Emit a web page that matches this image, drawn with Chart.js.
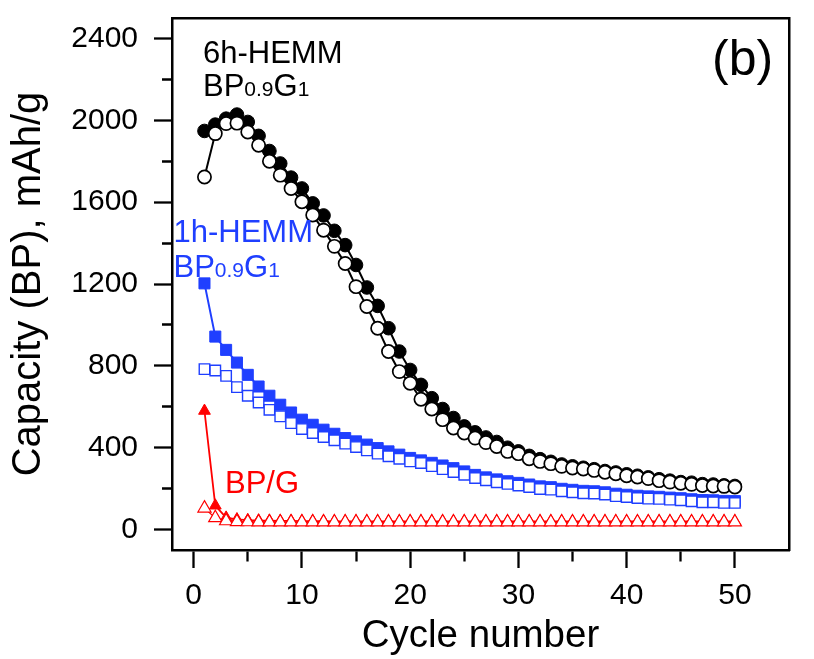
<!DOCTYPE html>
<html>
<head>
<meta charset="utf-8">
<title>Capacity vs cycle number</title>
<script src="https://cdn.jsdelivr.net/npm/chart.js@4.4.1/dist/chart.umd.min.js"></script>
<style>
  html, body { margin: 0; padding: 0; background: #fff; }
  #wrap { width: 814px; height: 659px; }
</style>
</head>
<body>
<div id="wrap"><canvas id="chart" width="814" height="659"></canvas></div>
<script>
// Cycle index (x) shared by every series
const cycleNumbers = [1,2,3,4,5,6,7,8,9,10,11,12,13,14,15,16,17,18,19,20,21,22,23,24,25,
                      26,27,28,29,30,31,32,33,34,35,36,37,38,39,40,41,42,43,44,45,46,47,48,49,50];

// 6h-HEMM BP0.9G1, solid circles
const hemm6hFilled = [1948,1979,2008,2028,1992,1924,1850,1789,1720,1667,1594,1535,1460,1390,1293,1183,1093,984,870,780,
                      707,642,589,545,504,475,450,428,400,382,360,344,331,318,309,302,295,286,279,270,
                      263,255,246,239,232,229,222,220,216,213];
// 6h-HEMM BP0.9G1, open circles
const hemm6hOpen   = [1723,1935,1984,1986,1943,1878,1800,1732,1667,1602,1537,1463,1384,1300,1187,1090,984,870,772,715,
                      637,589,537,496,472,447,425,406,382,371,346,333,322,309,301,296,289,280,273,263,
                      257,249,239,232,226,221,215,213,211,208];

// 1h-HEMM BP0.9G1, solid squares
const hemm1hFilled = [1203,943,878,816,756,699,654,610,572,537,512,488,468,447,431,415,398,382,366,350,
                      338,326,313,300,284,267,255,245,236,228,220,211,207,199,194,189,187,182,175,170,
                      165,162,160,156,153,148,144,143,140,139];
// 1h-HEMM BP0.9G1, open squares
const hemm1hOpen   = [784,777,751,696,654,621,585,553,520,491,472,452,436,420,403,387,371,358,346,333,
                      325,310,295,281,268,252,241,231,223,215,208,198,195,187,182,177,176,171,163,159,
                      154,151,150,146,143,138,133,133,130,130];

// BP/G, solid triangles
const bpgFilled    = [580,117,58,50,46,44,43,42,42,41,41,41,40,40,40,40,40,40,40,40,
                      40,40,40,40,40,40,40,40,40,40,40,40,40,40,40,40,40,40,40,40,
                      40,40,40,40,40,40,40,40,40,40];
// BP/G, open triangles
const bpgOpen      = [104,57,42,38,37,36,36,36,36,36,36,36,36,36,36,36,36,36,36,36,
                      36,36,36,36,36,36,36,36,36,36,36,36,36,36,36,36,36,36,36,36,
                      36,36,36,36,36,36,36,36,36,36];

// Axis ticks: labelled majors and unlabelled minors
const xMajorTicks = [0,10,20,30,40,50];
const xMinorTicks = [5,15,25,35,45];
const yMajorTicks = [0,400,800,1200,1600,2000,2400];
const yMinorTicks = [200,600,1000,1400,1800,2200];

const FONT = '"Liberation Sans", Arial, Helvetica, sans-serif';
const BLACK = '#000000';
const BLUE = '#1f3fff';
const RED = '#ff0000';

const toPoints = (ys) => cycleNumbers.map((c, i) => ({ x: c, y: ys[i] }));
const tickList = (major, minor) => major.concat(minor).sort((a, b) => a - b).map(v => ({ value: v }));

// Minor ticks are drawn shorter by dashing the tick stroke
const yMinorDash = (ctx) => (ctx.tick && yMinorTicks.includes(ctx.tick.value)) ? [0, 8, 30] : [];
const xMinorDash = (ctx) => (ctx.tick && xMinorTicks.includes(ctx.tick.value)) ? [10, 40] : [];

const noPadding = (s) => { s.paddingTop = 0; s.paddingBottom = 0; s.paddingLeft = 0; s.paddingRight = 0; };

// Text runs with smaller subscript digits, e.g. BP0.9G1
function drawRuns(ctx, runs, x, y, color) {
  ctx.fillStyle = color;
  ctx.textAlign = 'left';
  ctx.textBaseline = 'alphabetic';
  for (const [text, size] of runs) {
    ctx.font = size + 'px ' + FONT;
    ctx.fillText(text, x, y);
    x += ctx.measureText(text).width;
  }
}

const seriesLabels = {
  id: 'seriesLabels',
  afterDatasetsDraw(chart) {
    const { ctx, chartArea: a } = chart;
    ctx.save();
    drawRuns(ctx, [['6h-HEMM', 31]], a.left + 31, a.top + 45, BLACK);
    drawRuns(ctx, [['BP', 31], ['0.9', 21], ['G', 31], ['1', 21]], a.left + 31, a.top + 78, BLACK);
    drawRuns(ctx, [['1h-HEMM', 31]], a.left + 1.5, a.top + 224, BLUE);
    drawRuns(ctx, [['BP', 31], ['0.9', 21], ['G', 31], ['1', 21]], a.left + 1.5, a.top + 258.5, BLUE);
    drawRuns(ctx, [['BP/G', 31]], a.left + 53, a.top + 475, RED);
    drawRuns(ctx, [['(b)', 50]], a.left + 540, a.top + 57, BLACK);
    ctx.restore();
  }
};

const frameAxis = (position, min, max) => ({
  type: 'linear',
  position: position,
  min: min,
  max: max,
  ticks: { display: false },
  grid: { drawOnChartArea: false, drawTicks: false },
  border: { display: true, color: BLACK, width: 2.5 },
  afterFit: (s) => { if (position === 'top') { s.height = 0; } else { s.width = 0; } noPadding(s); }
});

Chart.defaults.font.family = FONT;
Chart.defaults.color = BLACK;

new Chart(document.getElementById('chart'), {
  type: 'line',
  data: {
    datasets: [
      { label: '6h-HEMM BP0.9G1 (solid)', data: toPoints(hemm6hFilled), order: 2,
        borderColor: BLACK, borderWidth: 2, pointStyle: 'circle', pointRadius: 6.8,
        pointBackgroundColor: BLACK, pointBorderColor: BLACK, pointBorderWidth: 1 },
      { label: '6h-HEMM BP0.9G1 (open)', data: toPoints(hemm6hOpen), order: 1,
        borderColor: BLACK, borderWidth: 2, pointStyle: 'circle', pointRadius: 6.6,
        pointBackgroundColor: '#ffffff', pointBorderColor: BLACK, pointBorderWidth: 1.7 },
      { label: '1h-HEMM BP0.9G1 (solid)', data: toPoints(hemm1hFilled), order: 4,
        borderColor: BLUE, borderWidth: 2, pointStyle: 'rect', pointRadius: 7.8,
        pointBackgroundColor: BLUE, pointBorderColor: BLUE, pointBorderWidth: 1 },
      { label: '1h-HEMM BP0.9G1 (open)', data: toPoints(hemm1hOpen), order: 3,
        borderColor: BLUE, borderWidth: 1.5, pointStyle: 'rect', pointRadius: 7.4,
        pointBackgroundColor: '#ffffff', pointBorderColor: BLUE, pointBorderWidth: 1.4 },
      { label: 'BP/G (solid)', data: toPoints(bpgFilled), order: 6,
        borderColor: RED, borderWidth: 1.8, pointStyle: 'triangle', pointRadius: 6.8,
        pointBackgroundColor: RED, pointBorderColor: RED, pointBorderWidth: 1 },
      { label: 'BP/G (open)', data: toPoints(bpgOpen), order: 5,
        borderColor: RED, borderWidth: 1.2, pointStyle: 'triangle', pointRadius: 7.6,
        pointBackgroundColor: '#ffffff', pointBorderColor: RED, pointBorderWidth: 1.2 }
    ]
  },
  options: {
    responsive: false,
    animation: false,
    devicePixelRatio: 1,
    layout: { autoPadding: false, padding: { left: 0, right: 25, top: 18, bottom: 0 } },
    elements: { line: { tension: 0 } },
    plugins: { legend: { display: false }, tooltip: { enabled: false } },
    scales: {
      x: {
        type: 'linear',
        position: 'bottom',
        min: -2,
        max: 55,
        afterBuildTicks: (axis) => { axis.ticks = tickList(xMajorTicks, xMinorTicks); },
        afterFit: (s) => { s.height = 109; noPadding(s); },
        ticks: {
          autoSkip: false, maxRotation: 0, padding: 10, color: BLACK,
          font: { size: 30 },
          callback: (v) => xMajorTicks.includes(v) ? String(v) : ''
        },
        grid: {
          drawOnChartArea: false, drawTicks: true, tickLength: 18,
          tickColor: BLACK, tickWidth: 2.3, tickBorderDash: xMinorDash
        },
        border: { display: true, color: BLACK, width: 2.5 },
        title: {
          display: true, text: 'Cycle number', color: BLACK,
          font: { size: 38.5 }, padding: { top: 0, bottom: 0 }
        }
      },
      y: {
        type: 'linear',
        position: 'left',
        min: -100,
        max: 2500,
        afterBuildTicks: (axis) => { axis.ticks = tickList(yMajorTicks, yMinorTicks); },
        afterFit: (s) => { s.width = 172; noPadding(s); },
        ticks: {
          autoSkip: false, padding: 16, color: BLACK,
          font: { size: 30 },
          callback: (v) => yMajorTicks.includes(v) ? String(v) : ''
        },
        grid: {
          drawOnChartArea: false, drawTicks: true, tickLength: 18,
          tickColor: BLACK, tickWidth: 2.3, tickBorderDash: yMinorDash
        },
        border: { display: true, color: BLACK, width: 2.5 },
        title: {
          display: true, text: 'Capacity (BP), mAh/g', color: BLACK,
          font: { size: 40 }, padding: { top: 5, bottom: 0 }
        }
      },
      xTop: frameAxis('top', -2, 55),
      yRight: frameAxis('right', -100, 2500)
    }
  },
  plugins: [seriesLabels]
});
</script>
</body>
</html>
